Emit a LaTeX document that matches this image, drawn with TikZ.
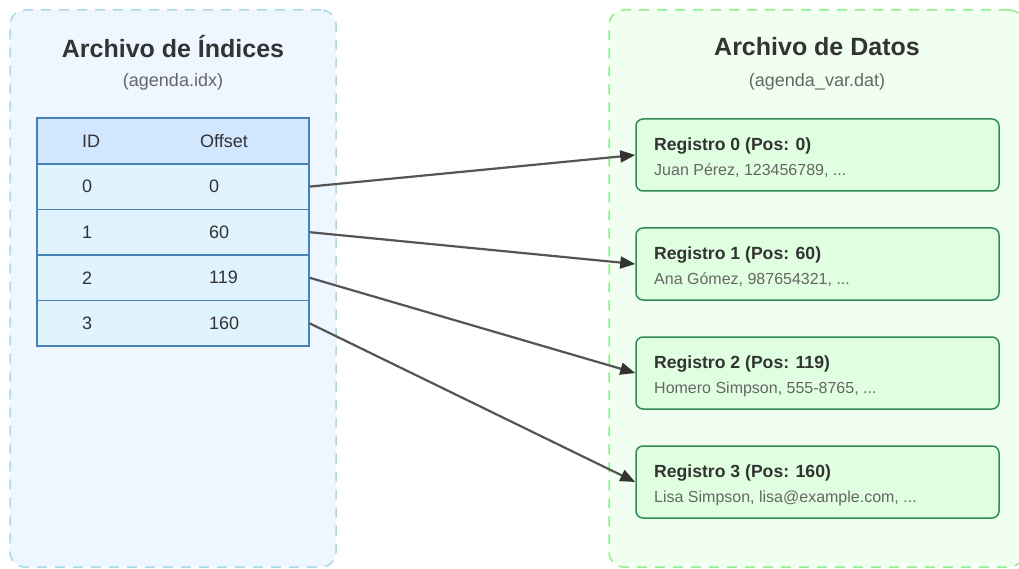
\documentclass[tikz,border=0pt]{standalone}
\usepackage{fontspec}
\setmainfont{Liberation Sans}
\usetikzlibrary{arrows.meta}

\definecolor{idxfill}{HTML}{EEF6FF}
\definecolor{idxline}{HTML}{A8D8EA}
\definecolor{datfill}{HTML}{F0FFF0}
\definecolor{datline}{HTML}{90EE90}
\definecolor{headfill}{HTML}{D1E7FF}
\definecolor{rowfill}{HTML}{E0F4FF}
\definecolor{rowline}{HTML}{4682B4}
\definecolor{recfill}{HTML}{E0FFE0}
\definecolor{recline}{HTML}{2E8B57}
\definecolor{darktext}{HTML}{333333}
\definecolor{softtext}{HTML}{666666}
\definecolor{linkgray}{HTML}{555555}

\begin{document}
\begin{tikzpicture}[x=1pt, y=-1pt]
  \tikzstyle{idx_panel} = [rectangle, rounded corners=15pt, draw=idxline, fill=idxfill, dash pattern=on 10pt off 8pt, line width=1.5pt, minimum width=326pt, minimum height=557pt]
  \tikzstyle{dat_panel} = [rectangle, rounded corners=15pt, draw=datline, fill=datfill, dash pattern=on 10pt off 8pt, line width=1.5pt, minimum width=415pt, minimum height=557pt]
  \tikzstyle{title} = [text=darktext, font=\fontsize{25}{30}\selectfont\bfseries]
  \tikzstyle{subtitle} = [text=softtext, font=\fontsize{18}{21}\selectfont]
  \tikzstyle{head_cell} = [rectangle, draw=rowline, fill=headfill, line width=1.5pt, minimum width=272pt, minimum height=46pt]
  \tikzstyle{row_cell} = [rectangle, draw=rowline, fill=rowfill, line width=1.5pt, minimum width=272pt, minimum height=45.6pt]
  \tikzstyle{cell_text} = [anchor=west, inner sep=0pt, text=darktext, font=\fontsize{18}{21}\selectfont]
  \tikzstyle{record} = [rectangle, rounded corners=7pt, draw=recline, fill=recfill, line width=1.5pt, minimum width=363pt, minimum height=72pt]
  \tikzstyle{rec_name} = [anchor=west, inner sep=0pt, text=darktext, font=\fontsize{17.6}{20}\selectfont\bfseries]
  \tikzstyle{rec_data} = [anchor=west, inner sep=0pt, text=softtext, font=\fontsize{16}{19}\selectfont]
  \tikzstyle{arrow} = [draw=linkgray, line width=2.2pt, -{Triangle[length=15pt, width=12pt, color=darktext]}]

  \useasboundingbox (0,0) rectangle (1019,569);

  % index file
  \node [idx_panel] at (173, 288.5) (idx_box) {};
  \node [title] at (173, 47) (idx_title) {Archivo de Índices};
  \node [subtitle] at (173, 82) (idx_name) {(agenda.idx)};

  \node [head_cell] at (173, 141) (head) {};
  \node [row_cell] at (173, 186.6) (row0) {};
  \node [row_cell] at (173, 232.2) (row1) {};
  \node [row_cell] at (173, 277.8) (row2) {};
  \node [row_cell] at (173, 323.4) (row3) {};

  \node [cell_text] at (82, 141) (head_id) {ID};
  \node [cell_text] at (200, 141) (head_off) {Offset};
  \node [cell_text] at (82, 186.6) (id0) {0};
  \node [cell_text] at (209, 186.6) (off0) {0};
  \node [cell_text] at (82, 232.2) (id1) {1};
  \node [cell_text] at (209, 232.2) (off1) {60};
  \node [cell_text] at (82, 277.8) (id2) {2};
  \node [cell_text] at (209, 277.8) (off2) {119};
  \node [cell_text] at (82, 323.4) (id3) {3};
  \node [cell_text] at (209, 323.4) (off3) {160};

  % data file
  \node [dat_panel] at (816.5, 288.5) (dat_box) {};
  \node [title] at (817, 47) (dat_title) {Archivo de Datos};
  \node [subtitle] at (817, 82) (dat_name) {(agenda\_var.dat)};

  \node [record] at (817.5, 155) (rec0) {};
  \node [record] at (817.5, 264) (rec1) {};
  \node [record] at (817.5, 373) (rec2) {};
  \node [record] at (817.5, 482) (rec3) {};

  \node [rec_name] at (654, 146) (name0) {Registro 0 (Pos: 0)};
  \node [rec_data] at (654, 171) (data0) {Juan Pérez, 123456789, ...};
  \node [rec_name] at (654, 255) (name1) {Registro 1 (Pos: 60)};
  \node [rec_data] at (654, 280) (data1) {Ana Gómez, 987654321, ...};
  \node [rec_name] at (654, 364) (name2) {Registro 2 (Pos: 119)};
  \node [rec_data] at (654, 389) (data2) {Homero Simpson, 555-8765, ...};
  \node [rec_name] at (654, 473) (name3) {Registro 3 (Pos: 160)};
  \node [rec_data] at (654, 498) (data3) {Lisa Simpson, lisa@example.com, ...};

  \draw[arrow] (row0.east) to (rec0.west);
  \draw[arrow] (row1.east) to (rec1.west);
  \draw[arrow] (row2.east) to (rec2.west);
  \draw[arrow] (row3.east) to (rec3.west);
\end{tikzpicture}
\end{document}
